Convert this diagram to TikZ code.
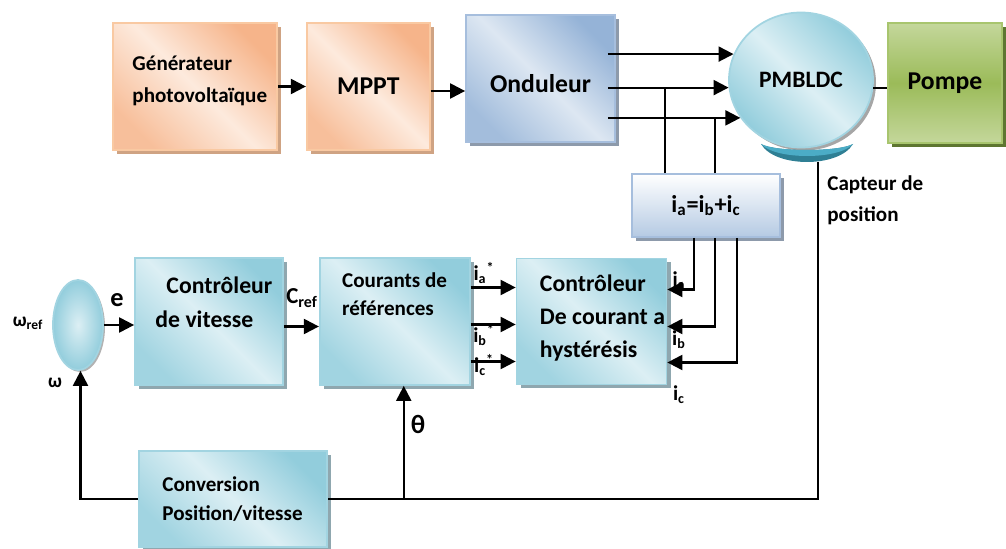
\documentclass[tikz,border=0pt]{standalone}
\usepackage{fontspec}
\setmainfont{Carlito}
\usepackage{xcolor}
\definecolor{orangeDark}{HTML}{F6B48A}
\definecolor{orangeLight}{HTML}{FDEADD}
\definecolor{orangeEdge}{HTML}{F9C9A2}
\definecolor{orangeShadow}{HTML}{CFA383}
\definecolor{blueDark}{HTML}{95B3D7}
\definecolor{blueLight}{HTML}{DDE7F2}
\definecolor{blueEdge}{HTML}{A6BEDD}
\definecolor{blueShadow}{HTML}{8D9AAB}
\definecolor{tealDark}{HTML}{92CDDC}
\definecolor{tealLight}{HTML}{DCEFF4}
\definecolor{tealEdge}{HTML}{A2D4E1}
\definecolor{tealShadow}{HTML}{8FA7AF}
\definecolor{greenDark}{HTML}{9BBB59}
\definecolor{greenLight}{HTML}{C4D79B}
\definecolor{greenEdge}{HTML}{A8C56E}
\definecolor{greenShadow}{HTML}{5E7631}
\definecolor{sensorTop}{HTML}{4BACC6}
\definecolor{sensorDark}{HTML}{2F7F94}
\usepackage{tikz}
\usetikzlibrary{
    shapes.geometric,
    arrows.meta,
    shadows,
    positioning,
    calc
}
\newcommand{\curr}[1]{i\textsubscript{#1}}
\newcommand{\currref}[1]{i\textsubscript{#1}\textsuperscript{*}}
\tikzset{
    % Base style for the blocks, shaded along the diagonal
    block/.style={
        rectangle,
        inner sep=0pt,
        line width=1pt,
        draw=#1Edge,
        top color=#1Dark,
        bottom color=#1Dark!80!#1Light,
        middle color=#1Light,
        shading angle=-45,
        drop shadow={shadow xshift=0.8mm, shadow yshift=-0.8mm, fill=#1Shadow, opacity=1},
        font=\bfseries\fontsize{14.6}{17}\selectfont,
        align=center,
    },
    % Pump block - vertical green shading
    pumpbox/.style={
        block=green,
        top color=greenLight,
        bottom color=greenLight,
        middle color=greenDark,
    },
    % Sum block - white to blue
    summer/.style={
        block=blue,
        top color=white,
        bottom color=blueDark!70!white,
        font=\bfseries\fontsize{13.8}{16}\selectfont,
    },
    % Motor and comparator
    machine/.style={
        ellipse,
        inner sep=0pt,
        line width=1pt,
        draw=tealEdge,
        top color=tealDark,
        bottom color=tealDark,
        middle color=tealLight,
        shading angle=-45,
        drop shadow={shadow xshift=0.6mm, shadow yshift=-0.6mm, fill=gray!70, opacity=1},
        font=\bfseries\fontsize{13.4}{16}\selectfont,
    },
    comparator/.style={
        ellipse,
        inner sep=0pt,
        line width=1pt,
        draw=tealEdge,
        inner color=tealLight,
        outer color=tealDark,
        drop shadow={shadow xshift=0.4mm, shadow yshift=-0.4mm, fill=gray!60, opacity=1},
    },
    % Text set inside the blocks
    txt/.style={
        inner sep=0pt,
        align=left,
        anchor=west,
    },
    % Signal labels
    sig/.style={
        inner sep=0pt,
        font=\bfseries\fontsize{12}{14}\selectfont,
    },
    arrow/.style={
        -{Triangle[length=3mm, width=3mm]},
        line width=1.2pt,
    },
    wire/.style={
        line width=1.2pt,
    },
}

\begin{document}
\begin{tikzpicture}
    \useasboundingbox (0,0) rectangle (20.12,-10.98);

    \node (gen) [block=orange, minimum width=3.28cm, minimum height=2.54cm] at (3.90,-1.73) {};
    \node (gentext) [txt, font=\bfseries\fontsize{12}{18}\selectfont] at ([shift={(0.4,0.11)}]gen.west) {Générateur\\photovoltaïque};
    \node (mppt) [block=orange, minimum width=2.46cm, minimum height=2.54cm, right=5.6mm of gen] {MPPT};
    \node (ond) [block=blue, minimum width=2.98cm, minimum height=2.54cm] at (10.81,-1.57) {\raisebox{-0.28cm}[0pt][0pt]{Onduleur}};
    \node (motor) [machine, minimum width=2.88cm, minimum height=2.7cm] at (16.02,-1.60) {PMBLDC};
    \node (pompe) [pumpbox, minimum width=2.28cm, minimum height=2.40cm] at (18.90,-1.66) {Pompe};
    \node (sum) [summer, minimum width=2.96cm, minimum height=1.26cm] at (14.12,-4.11) {\curr{a}=\curr{b}+\curr{c}};

    \node (cmp) [comparator, minimum width=1cm, minimum height=1.8cm] at (1.56,-6.50) {};
    \node (vit) [block=teal, minimum width=2.96cm, minimum height=2.54cm] at (4.18,-6.43) {};
    \node (vittext) [txt, font=\bfseries\fontsize{13.5}{19.3}\selectfont] at ([shift={(0.42,0.39)}]vit.west) {\hspace{0.22cm}Contrôleur\\de vitesse};
    \node (cref) [block=teal, minimum width=3cm, minimum height=2.54cm, right=7mm of vit] {};
    \node (creftext) [txt, font=\bfseries\fontsize{12}{15.9}\selectfont] at ([shift={(0.46,0.55)}]cref.west) {Courants de\\références};
    \node (hyst) [block=teal, minimum width=3cm, minimum height=2.52cm, right=9mm of cref] {};
    \node (hysttext) [txt, font=\bfseries\fontsize{13.5}{19}\selectfont] at ([shift={(0.48,0.07)}]hyst.west) {Contrôleur\\De courant a\\hystérésis};
    \node (conv) [block=teal, minimum width=3.76cm, minimum height=1.92cm] at (4.66,-9.98) {};
    \node (convtext) [txt, font=\bfseries\fontsize{12}{16.4}\selectfont] at ([shift={(0.48,0)}]conv.west) {Conversion\\Position/vitesse};

    % position sensor under the motor
    \fill [sensorDark] (15.22,-2.88) .. controls (15.50,-3.36) and (16.78,-3.36) .. (17.06,-2.88)
        .. controls (16.78,-3.04) and (15.50,-3.04) .. cycle;
    \fill [sensorTop] (15.22,-2.88) .. controls (15.50,-3.20) and (16.78,-3.20) .. (17.06,-2.88)
        .. controls (16.78,-3.04) and (15.50,-3.04) .. cycle;
    \coordinate (capt) at (16.36,-3.24);
    \node (capttext) [txt, font=\bfseries\fontsize{12}{17.5}\selectfont] at ([shift={(0.18,-0.77)}]capt) {Capteur de\\position};

    \draw [arrow] (gen) -- (mppt);
    \draw [arrow] ([yshift=-0.9mm]mppt.east) -- ([yshift=-0.9mm]mppt.east -| ond.west);
    \foreach \a in {159,186,212}
        \draw [arrow] ([xshift=-1.6mm]ond.east |- motor.\a) -- (motor.\a);
    \draw [wire] (motor.354) -- (motor.354 -| pompe.west);
    \draw [wire] ([xshift=6.8mm]sum.north west) -- ([xshift=6.8mm]sum.north west |- motor.186);
    \draw [wire] ([xshift=16.8mm]sum.north west) -- ([xshift=16.8mm]sum.north west |- motor.212);
    \foreach \dx/\dy in {12.6mm/6.4mm, 16.8mm/-1mm, 21.2mm/-8.2mm}
        \draw [arrow] ([xshift=\dx]sum.south west) |- ([yshift=\dy]hyst.east);

    \draw [arrow] (cmp.east) -- (cmp.east -| vit.west);
    \draw [arrow] ([yshift=-1mm]vit.east) -- ([yshift=-1mm]vit.east -| cref.west);
    \foreach \dy in {6.8mm,-0.6mm,-8mm}
        \draw [arrow] ([yshift=\dy]hyst.west -| cref.east) -- ([yshift=\dy]hyst.west);
    \draw [wire] (capt) |- (conv.east);
    \draw [arrow] ([xshift=1.8mm]cref.south |- conv.east) -- ([xshift=1.8mm]cref.south);
    \draw [arrow] (conv.west) -| ([xshift=0.5mm]cmp.south);

    \node (wref) [sig, font=\bfseries\fontsize{11}{13}\selectfont] at (0.56,-6.46) {ω\textsubscript{ref}};
    \node (w) [sig, font=\bfseries\fontsize{11}{13}\selectfont] at (1.10,-7.66) {ω};
    \node (e) [sig, font=\bfseries\fontsize{15}{17}\selectfont] at (2.34,-6.00) {e};
    \node (cr) [sig, font=\bfseries\fontsize{13}{15}\selectfont] at (6.04,-5.96) {C\textsubscript{ref}};
    \node (iar) [sig] at (9.68,-5.46) {\currref{a}};
    \node (ibr) [sig] at (9.68,-6.70) {\currref{b}};
    \node (icr) [sig] at (9.68,-7.30) {\currref{c}};
    \node (ia) [sig] at (13.58,-5.62) {\curr{a}};
    \node (ib) [sig] at (13.58,-6.80) {\curr{b}};
    \node (ic) [sig] at (13.58,-7.90) {\curr{c}};
    \node (theta) [sig, font=\bfseries\fontsize{15}{17}\selectfont] at (8.36,-8.48) {θ};
\end{tikzpicture}
\end{document}
